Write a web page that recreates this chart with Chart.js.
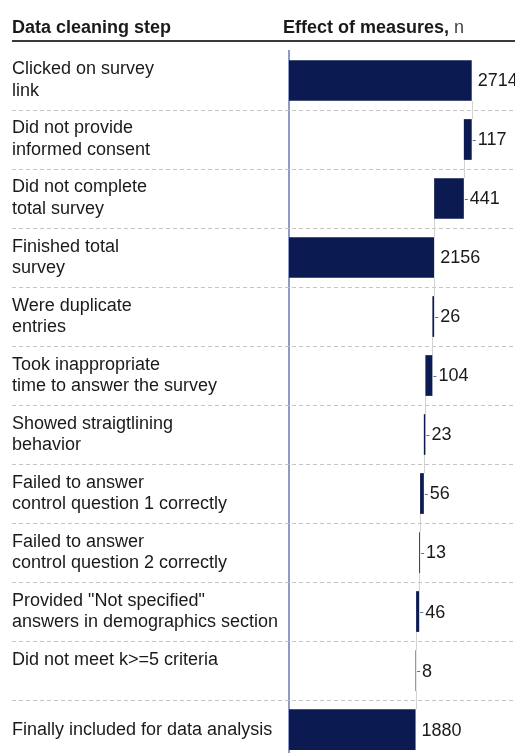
<!DOCTYPE html>
<html>
<head>
<meta charset="utf-8">
<script src="https://cdn.jsdelivr.net/npm/chart.js@4.4.1/dist/chart.umd.min.js"></script>
<style>
  html, body { margin: 0; padding: 0; background: #fff; overflow: hidden; }
  #wrap { position: relative; width: 515px; height: 781px; }
</style>
</head>
<body>
<div id="wrap"><canvas id="myChart"></canvas></div>
<script>
// row labels (multi-line)
const steps = [
  ["Clicked on survey", "link"],
  ["Did not provide", "informed consent"],
  ["Did not complete", "total survey"],
  ["Finished total", "survey"],
  ["Were duplicate", "entries"],
  ["Took inappropriate", "time to answer the survey"],
  ["Showed straigtlining", "behavior"],
  ["Failed to answer", "control question 1 correctly"],
  ["Failed to answer", "control question 2 correctly"],
  ["Provided \"Not specified\"", "answers in demographics section"],
  ["Did not meet k>=5 criteria", ""],
  "Finally included for data analysis"
];
const counts = [2714, 117, 441, 2156, 26, 104, 23, 56, 13, 46, 8, 1880];
// total = bar from zero, drop = taken off the running total
const kinds = ["total", "drop", "drop", "total", "drop", "drop", "drop", "drop", "drop", "drop", "drop", "total"];

const FONT = "'Liberation Sans', Arial, sans-serif";
const barColor = "#0b1a50";

// build the floating bars
let running = 0;
const levels = [];
const ranges = counts.map((v, i) => {
  let r;
  if (kinds[i] === "total") {
    running = v;
    r = [0, v];
  } else {
    r = [running - v, running];
    running = running - v;
  }
  levels.push(running);
  return r;
});

const extras = {
  id: "extras",
  beforeDatasetsDraw(chart) {
    const ctx = chart.ctx;
    const ys = chart.scales.y;
    ctx.save();
    // header
    ctx.fillStyle = "#1a1a1a";
    ctx.textBaseline = "alphabetic";
    ctx.textAlign = "left";
    ctx.font = "bold 18px " + FONT;
    ctx.fillText("Data cleaning step", 12, 33);
    const head = "Effect of measures,";
    ctx.fillText(head, 283, 33);
    const w = ctx.measureText(head).width;
    ctx.font = "18px " + FONT;
    ctx.fillStyle = "#444";
    ctx.fillText(" n", 283 + w, 33);
    ctx.strokeStyle = "#3a3a3a";
    ctx.lineWidth = 2;
    ctx.beginPath();
    ctx.moveTo(12, 41);
    ctx.lineTo(chart.width, 41);
    ctx.stroke();

    // dashed row separators
    ctx.strokeStyle = "#c4c4c4";
    ctx.lineWidth = 1;
    ctx.setLineDash([4, 3]);
    for (let i = 1; i < steps.length; i++) {
      const yb = Math.round((ys.getPixelForValue(i - 1) + ys.getPixelForValue(i)) / 2) + 0.5;
      ctx.beginPath();
      ctx.moveTo(12, yb);
      ctx.lineTo(chart.width, yb);
      ctx.stroke();
    }
    ctx.setLineDash([]);

    // waterfall connectors
    const xs = chart.scales.x;
    const bars = chart.getDatasetMeta(0).data;
    ctx.strokeStyle = "#d2d2d2";
    for (let i = 0; i < steps.length - 1; i++) {
      const x = Math.round(xs.getPixelForValue(levels[i])) + 0.5;
      ctx.beginPath();
      ctx.moveTo(x, bars[i].y + bars[i].height / 2);
      ctx.lineTo(x, bars[i + 1].y - bars[i + 1].height / 2);
      ctx.stroke();
    }
    ctx.restore();
  },
  afterDatasetsDraw(chart) {
    const ctx = chart.ctx;
    const xs = chart.scales.x;
    const bars = chart.getDatasetMeta(0).data;
    ctx.save();
    ctx.font = "18px " + FONT;
    ctx.textBaseline = "middle";
    ctx.textAlign = "left";
    bars.forEach((b, i) => {
      const xe = xs.getPixelForValue(ranges[i][1]);
      if (kinds[i] === "drop") {
        ctx.strokeStyle = "#5a6aa8";
        ctx.lineWidth = 1;
        ctx.beginPath();
        ctx.moveTo(xe + 1, Math.round(b.y) + 0.5);
        ctx.lineTo(xe + 4, Math.round(b.y) + 0.5);
        ctx.stroke();
      }
      ctx.fillStyle = "#1a1a1a";
      ctx.fillText(String(counts[i]), xe + 6, b.y + 1);
    });
    ctx.restore();
  }
};

const ctx = document.getElementById("myChart").getContext("2d");
const chart1 = new Chart(ctx, {
  type: "bar",
  data: {
    labels: steps,
    datasets: [{
      data: ranges,
      backgroundColor: barColor,
      borderWidth: 0,
      categoryPercentage: 1,
      barPercentage: 0.69
    }]
  },
  options: {
    indexAxis: "y",
    responsive: true,
    maintainAspectRatio: false,
    animation: false,
    layout: { padding: { top: 51, left: 12, right: 0, bottom: 0 } },
    plugins: { legend: { display: false }, tooltip: { enabled: false } },
    scales: {
      x: { display: false, min: 0, max: 3357 },
      y: {
        grid: { display: false },
        border: { display: true, color: "#8e9bc8", width: 2 },
        ticks: {
          crossAlign: "far",
          padding: 0,
          color: "#1a1a1a",
          font: { family: FONT, size: 18, lineHeight: 1.22 }
        },
        afterFit(scale) { scale.width = 277; }
      }
    }
  },
  plugins: [extras]
});
</script>
</body>
</html>
